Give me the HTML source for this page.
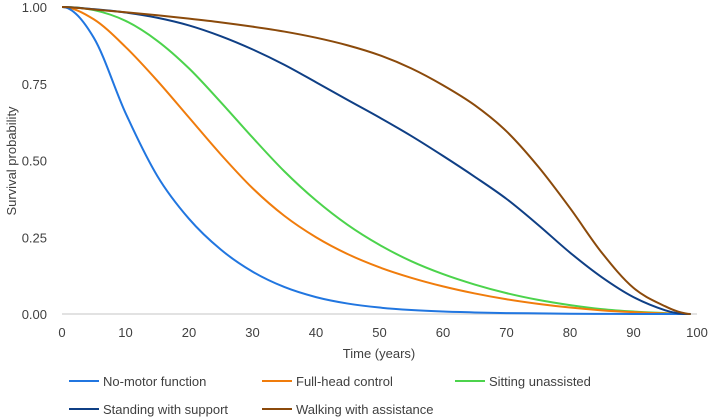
<!DOCTYPE html>
<html><head><meta charset="utf-8"><style>
body{margin:0;background:#fff;}
svg{display:block;font-family:"Liberation Sans",Arial,sans-serif;}
</style></head><body>
<svg id="chart" width="708" height="419"></svg>
<script>
const times=[0,5,10,15,20,25,30,35,40,45,50,55,60,65,70,75,80,85,90,95,97,99];
const noMotor=[1,0.90,0.655,0.45,0.31,0.21,0.138,0.088,0.055,0.034,0.021,0.013,0.008,0.005,0.003,0.002,0.001,0.0005,0,0,0,0];
const fullHead=[1,0.96,0.87,0.76,0.64,0.52,0.41,0.32,0.25,0.195,0.152,0.118,0.09,0.067,0.048,0.033,0.021,0.012,0.006,0.002,0.001,0];
const sitting=[1,0.99,0.955,0.89,0.80,0.69,0.575,0.465,0.37,0.29,0.225,0.172,0.13,0.096,0.068,0.046,0.029,0.016,0.008,0.003,0.001,0];
const standing=[1,0.993,0.982,0.965,0.94,0.905,0.862,0.812,0.755,0.697,0.64,0.58,0.515,0.447,0.375,0.29,0.20,0.12,0.055,0.012,0.002,0];
const walking=[1,0.992,0.983,0.973,0.962,0.95,0.936,0.92,0.9,0.875,0.843,0.80,0.745,0.68,0.595,0.48,0.345,0.2,0.085,0.025,0.008,0];
const seriesNames=["No-motor function","Full-head control","Sitting unassisted","Standing with support","Walking with assistance"];
const seriesColors=["#2176e0","#f07c0c","#4cd34c","#0f3f85","#8b4a0b"];
const xTicks=[0,10,20,30,40,50,60,70,80,90,100];
const yTicks=[0,0.25,0.5,0.75,1];
const allSeries=[noMotor,fullHead,sitting,standing,walking];

const NS="http://www.w3.org/2000/svg";
const svg=document.getElementById('chart');
const X0=62,X1=697,Y0=314,Y1=7;
const xs=t=>X0+(t/100)*(X1-X0);
const ys=v=>Y0-v*(Y0-Y1);
function el(tag,attrs,parent){const e=document.createElementNS(NS,tag);for(const k in attrs)e.setAttribute(k,attrs[k]);(parent||svg).appendChild(e);return e;}

const base=el('line',{x1:X0,x2:X1,y1:Y0,y2:Y0,stroke:'#d9d9d9','stroke-width':1.5});



yTicks.forEach(v=>{
  const t=el('text',{x:47,y:ys(v)+5,'text-anchor':'end','font-size':13,fill:'#404040'});
  t.textContent=v.toFixed(2);
  
  
});
xTicks.forEach(v=>{
  const t=el('text',{x:xs(v),y:337,'text-anchor':'middle','font-size':13,fill:'#404040'});
  t.textContent=v;
  
  
});
const xt=el('text',{x:379,y:358,'text-anchor':'middle','font-size':13,fill:'#404040'});
xt.textContent='Time (years)';


const yt=el('text',{x:0,y:0,'text-anchor':'middle','font-size':13,fill:'#404040',transform:'translate(16,161) rotate(-90)'});
yt.textContent='Survival probability';



function monoPath(xa,ya){
  const n=xa.length,d=[],m=[];
  for(let i=0;i<n-1;i++)d.push((ya[i+1]-ya[i])/(xa[i+1]-xa[i]));
  m[0]=0;m[n-1]=0;
  for(let i=1;i<n-1;i++){m[i]=(d[i-1]*d[i]<=0)?0:(d[i-1]+d[i])/2;}
  for(let i=0;i<n-1;i++){
    if(d[i]===0){m[i]=0;m[i+1]=0;continue;}
    const a=m[i]/d[i],b=m[i+1]/d[i],s=a*a+b*b;
    if(s>9){const tt=3/Math.sqrt(s);m[i]=tt*a*d[i];m[i+1]=tt*b*d[i];}
  }
  let p='M'+xa[0]+','+ya[0];
  for(let i=0;i<n-1;i++){
    const h=(xa[i+1]-xa[i])/3;
    p+=' C'+(xa[i]+h)+','+(ya[i]+m[i]*h)+' '+(xa[i+1]-h)+','+(ya[i+1]-m[i+1]*h)+' '+xa[i+1]+','+ya[i+1];
  }
  return p;
}
const px=times.map(xs);
const lineNames=['line-no-motor','line-full-head','line-sitting','line-standing','line-walking'];
[2,1,0,3,4].forEach(i=>{
  const p=el('path',{d:monoPath(px,allSeries[i].map(ys)),fill:'none',stroke:seriesColors[i],'stroke-width':2,'stroke-linejoin':'round'});
  
  
});

const legPos=[[69,381],[262,381],[455,381],[69,409],[262,409]];
seriesNames.forEach((nm,i)=>{
  const g=el('g',{});
  
  
  const [lx,ly]=legPos[i];
  el('line',{x1:lx,x2:lx+30,y1:ly,y2:ly,stroke:seriesColors[i],'stroke-width':2},g);
  const t=el('text',{x:lx+34,y:ly+5,'font-size':13,fill:'#404040'},g);
  t.textContent=nm;
});
</script>
</body></html>
